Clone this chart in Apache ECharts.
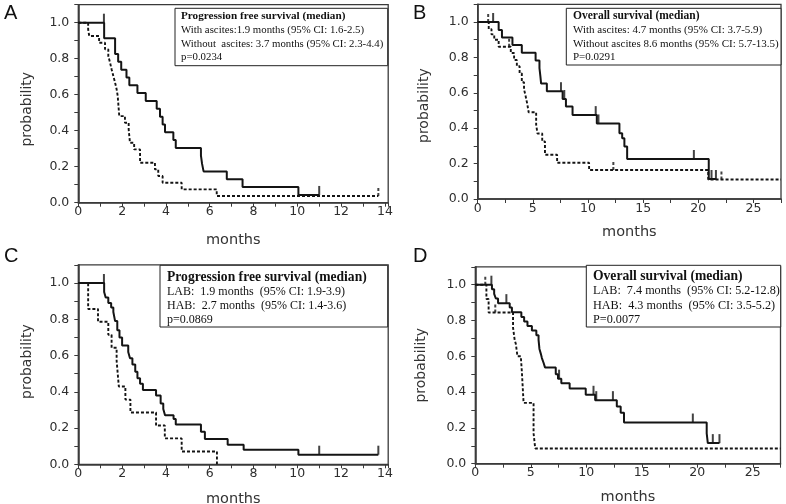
<!DOCTYPE html>
<html><head><meta charset="utf-8">
<script src="https://cdn.jsdelivr.net/npm/echarts@6/dist/echarts.min.js"></script>
<style>html,body{margin:0;padding:0;background:#fff}#c{width:786px;height:504px}</style>
</head><body><div id="c"></div>
<script>
// ---- Panel A: PFS by ascites ----
const aWithoutT = [0, 1.18, 1.68, 1.82, 1.96, 2.2, 2.33, 2.7, 3.08, 3.58, 3.73, 3.85, 3.96, 4.34, 4.45, 5.6, 5.65, 5.72, 6.78, 7.5, 10.05, 11.0];
const aWithoutS = [1, 0.913, 0.826, 0.783, 0.739, 0.696, 0.652, 0.609, 0.565, 0.522, 0.478, 0.435, 0.391, 0.348, 0.304, 0.261, 0.217, 0.174, 0.130, 0.087, 0.043, 0.043];
const aWithoutCens = [1.17, 11.0];
const aWithT = [0, 0.45, 0.5, 0.95, 1.22, 1.37, 1.45, 1.52, 1.6, 1.68, 1.75, 1.8, 1.87, 2.13, 2.3, 2.36, 2.55, 2.82, 3.5, 3.65, 3.85, 4.72, 6.32, 13.7];
const aWithS = [1, 0.963, 0.926, 0.889, 0.852, 0.815, 0.778, 0.741, 0.704, 0.667, 0.630, 0.593, 0.481, 0.444, 0.407, 0.333, 0.296, 0.222, 0.185, 0.148, 0.111, 0.074, 0.037, 0.037];
const aWithCens = [13.7];
// ---- Panel B: OS by ascites ----
const bWithoutT = [0, 1.9, 2.2, 3.15, 4.0, 5.25, 5.6, 5.68, 5.75, 6.27, 7.7, 8.0, 8.6, 10.8, 12.85, 13.1, 13.3, 13.55, 20.95, 21.6];
const bWithoutS = [1, 0.955, 0.913, 0.870, 0.826, 0.783, 0.739, 0.696, 0.652, 0.609, 0.565, 0.522, 0.474, 0.427, 0.371, 0.343, 0.296, 0.226, 0.113, 0.113];
const bWithoutCens = [1.4, 7.55, 7.85, 10.7, 10.95, 19.6, 21.2, 21.6];
const bWithT = [0, 1.0, 1.25, 1.5, 1.9, 3.0, 3.3, 3.55, 3.8, 4.0, 4.2, 4.35, 4.5, 4.62, 5.3, 5.42, 5.85, 6.1, 7.2, 10.1, 20.9, 27.5];
const bWithS = [1, 0.96, 0.93, 0.9, 0.86, 0.825, 0.785, 0.75, 0.71, 0.66, 0.62, 0.58, 0.535, 0.49, 0.42, 0.37, 0.325, 0.25, 0.205, 0.164, 0.11, 0.11];
const bWithCens = [0.95, 2.85, 12.3, 22.1];
// ---- Panel C: PFS by LAB/HAB ----
const cLabT = [0, 1.18, 1.25, 1.37, 1.5, 1.6, 1.68, 1.78, 1.88, 2.0, 2.28, 2.36, 2.47, 2.6, 2.7, 2.82, 2.95, 3.55, 3.76, 3.88, 3.96, 4.35, 4.45, 5.6, 5.78, 6.82, 7.55, 10.05, 13.7];
const cLabS = [1, 0.95, 0.92, 0.89, 0.865, 0.84, 0.79, 0.74, 0.70, 0.655, 0.62, 0.585, 0.55, 0.51, 0.475, 0.445, 0.41, 0.38, 0.335, 0.305, 0.27, 0.25, 0.22, 0.18, 0.14, 0.108, 0.08, 0.053, 0.053];
const cLabCens = [1.17, 11.0, 13.7];
const cHabT = [0, 0.45, 0.9, 1.37, 1.52, 1.75, 1.8, 1.85, 2.15, 2.38, 3.55, 3.95, 4.72, 6.33];
const cHabS = [1, 0.857, 0.786, 0.714, 0.643, 0.571, 0.5, 0.429, 0.357, 0.286, 0.214, 0.143, 0.071, 0];
const cHabCens = [];
// ---- Panel D: OS by LAB/HAB ----
const dLabT = [0, 1.5, 1.7, 1.85, 2.05, 3.1, 3.3, 4.15, 4.4, 4.7, 5.1, 5.5, 5.7, 5.78, 5.9, 6.0, 6.15, 6.28, 7.25, 7.45, 7.75, 8.5, 9.95, 10.8, 12.75, 13.1, 13.4, 20.85, 20.95, 22.0];
const dLabS = [1, 0.974, 0.949, 0.923, 0.897, 0.872, 0.846, 0.82, 0.795, 0.769, 0.744, 0.718, 0.692, 0.641, 0.615, 0.59, 0.564, 0.538, 0.5, 0.475, 0.45, 0.42, 0.385, 0.355, 0.32, 0.285, 0.23, 0.17, 0.115, 0.115];
const dLabCens = [1.45, 2.8, 7.55, 10.65, 10.9, 12.4, 19.6, 21.4, 22.0];
const dHabT = [0, 1.0, 1.2, 3.4, 3.55, 3.65, 3.8, 4.1, 4.2, 4.35, 5.25, 5.4, 27.5];
const dHabS = [1, 0.92, 0.845, 0.76, 0.69, 0.67, 0.6, 0.59, 0.51, 0.34, 0.17, 0.085, 0.085];
const dHabCens = [0.9, 1.8];

// ---- texts ----
const panelLetters = ['A', 'B', 'C', 'D'];
const boxTexts = [
  ['Progression free survival (median)', 'With ascites:1.9 months (95% CI: 1.6-2.5)', 'Without  ascites: 3.7 months (95% CI: 2.3-4.4)', 'p=0.0234'],
  ['Overall survival (median)', 'With ascites: 4.7 months (95% CI: 3.7-5.9)', 'Without ascites 8.6 months (95% CI: 5.7-13.5)', 'P=0.0291'],
  ['Progression free survival (median)', 'LAB:  1.9 months  (95% CI: 1.9-3.9)', 'HAB:  2.7 months  (95% CI: 1.4-3.6)', 'p=0.0869'],
  ['Overall survival (median)', 'LAB:  7.4 months  (95% CI: 5.2-12.8)', 'HAB:  4.3 months  (95% CI: 3.5-5.2)', 'P=0.0077']
];
const xName = 'months', yName = 'probability';

// ---- layout ----
const panels = [
  {grid:{left:78.3, top:4.7, width:309.9, height:198}, xMax:14.15, xStep:1, xLab:2, xLabMax:14, xGap:30, yGap:44, yPad:[0,11,0,0],
   curves:[[aWithoutT,aWithoutS,aWithoutCens,0],[aWithT,aWithS,aWithCens,1]],
   letter:[4,3], box:[175,8.3,212.7,57.4], tx:181, ty:[16,30,44.3,56.7], tf:11.2, bf:10.8},
  {grid:{left:477.7, top:4.3, width:303.3, height:194.7}, xMax:27.5, xStep:2.5, xLab:5, xLabMax:25, xGap:26, yGap:46, yPad:[0,8,0,0],
   curves:[[bWithoutT,bWithoutS,bWithoutCens,0],[bWithT,bWithS,bWithCens,1]],
   letter:[413,3], box:[566.3,8.3,214.7,56.7], tx:573, ty:[16,30,44.3,56.7], tf:11.5, bf:11},
  {grid:{left:78.3, top:264.9, width:309.9, height:199.4}, xMax:14.15, xStep:1, xLab:2, xLabMax:14, xGap:27, yGap:44, yPad:[0,0,0,6],
   curves:[[cLabT,cLabS,cLabCens,0],[cHabT,cHabS,cHabCens,1]],
   letter:[4,246], box:[160,265.3,227.7,61.7], tx:167, ty:[277,292,306.3,320], tf:13.6, bf:12},
  {grid:{left:475.3, top:266.8, width:305.2, height:196.9}, xMax:27.5, xStep:2.5, xLab:5, xLabMax:25, xGap:26, yGap:47, yPad:[0,0,0,0],
   curves:[[dLabT,dLabS,dLabCens,0],[dHabT,dHabS,dHabCens,1]],
   letter:[413,246], box:[586.3,265.3,194.4,61.7], tx:593, ty:[276,291.3,306,320.3], tf:13.6, bf:12.2}
];

function levelAt(T, S, t) {
  let v = S[0];
  for (let i = 0; i < T.length; i++) { if (T[i] <= t) v = S[i]; else break; }
  return v;
}

const INK = '#141414', AX = '#3a3a3a', LAB = '#2e2e2e';
const grids = [], xAxes = [], yAxes = [], series = [], graphics = [];
panels.forEach((p, i) => {
  grids.push(Object.assign({show:true, borderColor:AX, borderWidth:1.3, backgroundColor:'transparent', containLabel:false, outerBoundsMode:'none'}, p.grid));
  xAxes.push({
    type:'value', gridIndex:i, min:0, max:p.xMax, interval:p.xStep,
    name:xName, nameLocation:'middle', nameGap:p.xGap,
    nameTextStyle:{fontFamily:'DejaVu Sans', fontSize:14.5, color:'#333'},
    axisLine:{show:true, onZero:false, lineStyle:{color:AX, width:1.6}},
    axisTick:{show:true, inside:false, length:4, lineStyle:{color:AX, width:1}},
    splitLine:{show:false},
    axisLabel:{margin:3, fontFamily:'DejaVu Sans', fontSize:12.5, color:LAB, showMaxLabel:true, showMinLabel:true,
      formatter:v => { const k = v / p.xLab; return (Math.abs(k - Math.round(k)) < 1e-6 && v <= p.xLabMax + 1e-6) ? String(Math.round(v)) : ''; }}
  });
  yAxes.push({
    type:'value', gridIndex:i, min:0, max:1.1, interval:0.1,
    name:yName, nameLocation:'middle', nameGap:p.yGap, nameRotate:90,
    nameTextStyle:{fontFamily:'DejaVu Sans', fontSize:14, color:'#333', padding:p.yPad},
    axisLine:{show:true, onZero:false, lineStyle:{color:AX, width:1.6}},
    axisTick:{show:true, inside:false, length:4, lineStyle:{color:AX, width:1}},
    splitLine:{show:false},
    axisLabel:{margin:9, fontFamily:'DejaVu Sans', fontSize:12.5, color:LAB,
      formatter:v => { const k = Math.round(v * 10); return (Math.abs(v * 10 - k) < 1e-6 && k % 2 === 0 && k <= 10) ? (k / 10).toFixed(1) : ''; }}
  });
  p.curves.forEach(([T, S, C, dashed]) => {
    series.push({
      type:'line', xAxisIndex:i, yAxisIndex:i, step:'end', symbol:'none', silent:true, animation:false,
      data:T.map((t, j) => [t, S[j]]),
      lineStyle:{color:INK, width:dashed ? 1.9 : 2, type:dashed ? [3, 2] : 'solid', cap:'butt'}
    });
    if (C.length) series.push({
      type:'scatter', xAxisIndex:i, yAxisIndex:i, silent:true, animation:false,
      data:C.map(t => [t, levelAt(T, S, t)]),
      symbol: dashed ? 'path://M0,0h2v3h-2zM0,5h2v3h-2z' : 'rect',
      symbolSize: dashed ? [2, 8] : [2, 9], symbolOffset:[0, dashed ? -4 : -4.5],
      itemStyle:{color:INK}
    });
  });
  graphics.push({type:'text', left:p.letter[0], top:p.letter[1], z:10,
    style:{text:panelLetters[i], font:'20px "Liberation Sans", Arial, sans-serif', fill:'#111'}});
  graphics.push({type:'rect', z:10, shape:{x:p.box[0], y:p.box[1], width:p.box[2], height:p.box[3]},
    style:{fill:'#fff', stroke:'#222', lineWidth:1}});
  boxTexts[i].forEach((s, k) => {
    graphics.push({type:'text', z:11, x:p.tx, y:p.ty[k],
      style:{text:s, fill:'#111', verticalAlign:'middle', textVerticalAlign:'middle',
        font:(k === 0 ? 'bold ' + p.tf : p.bf) + 'px "Liberation Serif", "Times New Roman", serif'}});
  });
});

const chart = echarts.init(document.getElementById('c'));
chart.setOption({animation:false, backgroundColor:'#fff', grid:grids, xAxis:xAxes, yAxis:yAxes, series:series, graphic:graphics});
</script></body></html>
